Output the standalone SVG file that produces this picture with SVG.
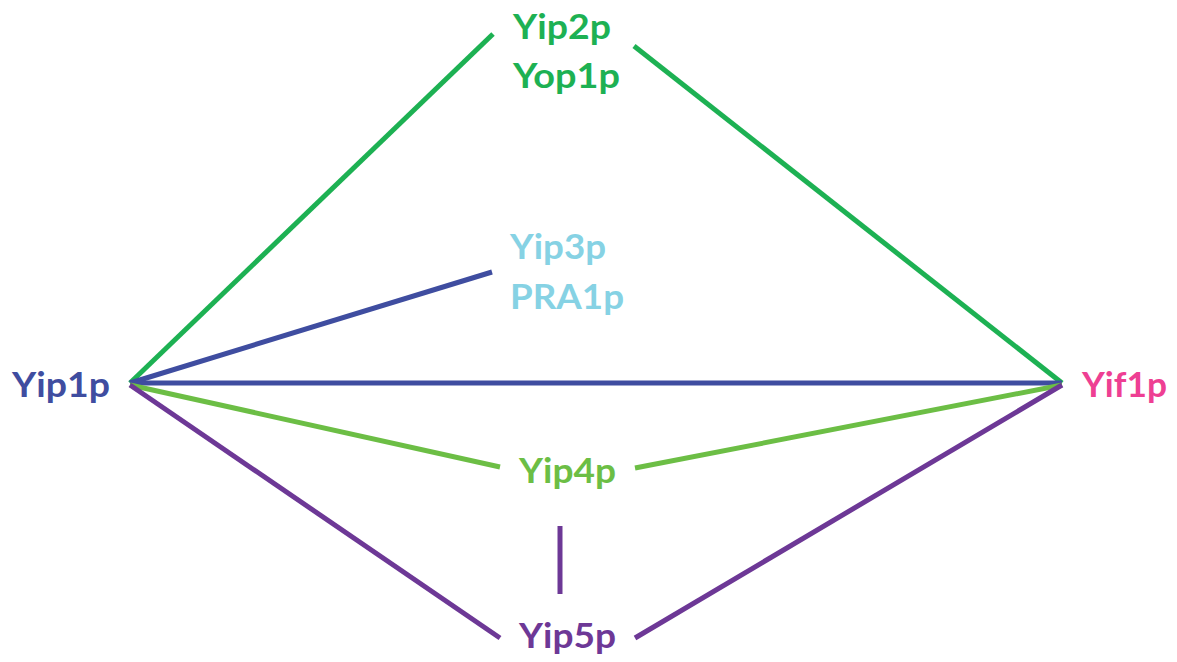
<svg xmlns="http://www.w3.org/2000/svg" width="1177" height="662" viewBox="0 0 1177 662">
<style>
text{font-family:Lato,"Open Sans","Liberation Sans",sans-serif;font-weight:bold;font-size:34px}
line{stroke-width:5;stroke-linecap:butt}
.g{stroke:#1DB153}.b{stroke:#3F4DA0}.lg{stroke:#6CBE45}.p{stroke:#6D3896}
</style>
<rect width="1177" height="662" fill="#fff"/>
<g id="connectors">
<line class="g" x1="130" y1="383" x2="493" y2="34"/>
<line class="g" x1="634" y1="46" x2="1062" y2="383"/>
<line class="b" x1="130" y1="383" x2="492" y2="272"/>
<line class="b" x1="130" y1="383" x2="1062" y2="383"/>
<line class="lg" x1="130" y1="385" x2="500" y2="467"/>
<line class="lg" x1="635" y1="468" x2="1062" y2="385"/>
<line class="p" x1="130" y1="385" x2="500" y2="638"/>
<line class="p" x1="635" y1="638" x2="1062" y2="385"/>
<line class="p" x1="560" y1="526" x2="560" y2="594"/>
</g>
<g id="yip1p"><text x="12" y="397" fill="#3F4DA0" textLength="98" lengthAdjust="spacingAndGlyphs">Yip1p</text></g>
<g id="yip2p"><text x="513" y="39" fill="#1DB153" textLength="98" lengthAdjust="spacingAndGlyphs">Yip2p</text><text x="513" y="88" fill="#1DB153" textLength="107" lengthAdjust="spacingAndGlyphs">Yop1p</text></g>
<g id="yip3p"><text x="510" y="259" fill="#86D2E4" textLength="96" lengthAdjust="spacingAndGlyphs">Yip3p</text><text x="510" y="309" fill="#86D2E4" textLength="114" lengthAdjust="spacingAndGlyphs">PRA1p</text></g>
<g id="yip4p"><text x="519" y="483" fill="#6CBE45" textLength="97" lengthAdjust="spacingAndGlyphs">Yip4p</text></g>
<g id="yip5p"><text x="519" y="648" fill="#6D3896" textLength="97" lengthAdjust="spacingAndGlyphs">Yip5p</text></g>
<g id="yif1p"><text x="1082" y="397" fill="#EE3F93" textLength="85" lengthAdjust="spacingAndGlyphs">Yif1p</text></g>
</svg>
